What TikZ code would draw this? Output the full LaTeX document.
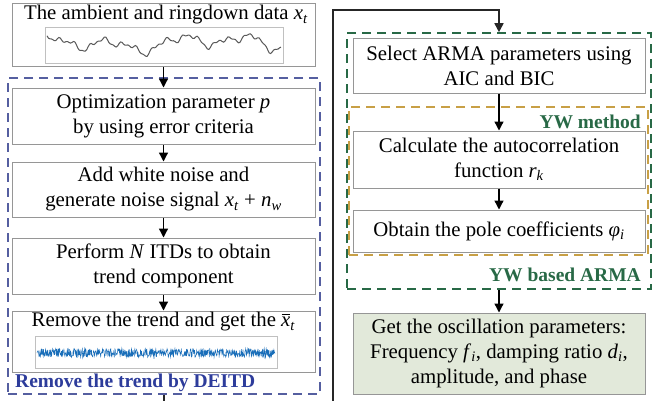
\documentclass[tikz,border=0pt]{standalone}
\usepackage{fontspec}
\setmainfont{Liberation Serif}
\usetikzlibrary{arrows.meta}
\definecolor{boxgray}{RGB}{150,150,150}
\definecolor{deitdblue}{RGB}{85,95,160}
\definecolor{labelblue}{RGB}{45,60,155}
\definecolor{armagreen}{RGB}{40,105,70}
\definecolor{ywgold}{RGB}{200,160,70}
\definecolor{oscfill}{RGB}{226,233,218}
\definecolor{noiseblue}{RGB}{25,110,185}
\newcommand\vsub[2]{\textit{#1}\textsubscript{\textit{#2}}}
\newcommand\xbar{x\llap{\rule[0.56em]{0.4em}{0.05em}\kern0.02em}}

\begin{document}
\begin{tikzpicture}[x=1pt,y=-1pt,>={Triangle[length=9pt,width=9pt]},
    every node/.style={font=\rmfamily\fontsize{20.8}{25}\selectfont,inner sep=0pt},
    stepbox/.style={draw=boxgray,line width=1pt,fill=white,align=center,minimum width=303pt},
    rstepbox/.style={stepbox,minimum width=292pt},
    groupbox/.style={dashed,dash pattern=on 9pt off 6pt,line width=1.6pt},
    grouplabel/.style={font=\rmfamily\fontsize{19.5}{22}\selectfont\bfseries,anchor=east},
    flow/.style={->,line width=1.3pt}]
    \useasboundingbox (0,0) rectangle (670,400);

    % group frames
    \node[groupbox,draw=deitdblue,minimum width=312pt,minimum height=316pt] (deitd) at (164,236) {};
    \node[groupbox,draw=armagreen,minimum width=304pt,minimum height=256pt] (arma) at (499,161) {};
    \node[groupbox,draw=ywgold,minimum width=299pt,minimum height=148pt] (yw) at (498.5,181) {};

    % left column
    \node[stepbox,minimum height=63pt] (data) at (163.5,34.5) {};
    \node (datatxt) at (166,15) {The ambient and ringdown data \vsub{x}{t}};
    \node[draw=boxgray!60,line width=0.6pt,minimum width=238pt,minimum height=36pt] (rawplot) at (164,45) {};
    \draw[black!65,line width=1pt] plot[domain=47:281,samples=160]
        (\x,{43 - 4*sin(\x*2.1) + 5*sin(\x*5.3+40) - 3*sin(\x*11.7) + 2*sin(\x*23) + 1.2*sin(\x*47)});

    \node[stepbox,minimum height=56pt] (opt) at (163.5,116) {Optimization parameter \textit{p}\\by using error criteria};
    \node[stepbox,minimum height=55pt] (wn) at (163.5,189.5) {Add white noise and\\generate noise signal \vsub{x}{t} + \vsub{n}{w}};
    \node[stepbox,minimum height=56pt] (itd) at (163.5,266) {Perform \textit{N} ITDs to obtain\\trend component};
    \node[stepbox,minimum height=61pt] (trend) at (163.5,341.5) {};
    \node (trendtxt) at (163.5,322) {Remove the trend and get the \vsub{\xbar}{t}};
    \node[draw=boxgray!60,line width=0.6pt,minimum width=242pt,minimum height=32pt] (cleanplot) at (156,352) {};
    \pgfmathsetseed{11}
    \draw[noiseblue,line width=0.5pt] plot[domain=37:275,samples=700] (\x,{353+4.5*rand});
    \node[grouplabel,text=labelblue,anchor=west] (deitdlbl) at (15,383) {Remove the trend by DEITD};

    % right column
    \node[rstepbox,minimum height=55pt] (select) at (499,65.5) {Select ARMA parameters using\\AIC and BIC};
    \node[rstepbox,minimum height=57pt] (acf) at (499,159.5) {Calculate the autocorrelation\\function \vsub{r}{k}};
    \node[rstepbox,minimum height=42pt] (pole) at (499,231) {Obtain the pole coefficients \vsub{φ}{i}};
    \node[grouplabel,text=armagreen] (ywlbl) at (641,122) {YW method};
    \node[grouplabel,text=armagreen] (armalbl) at (641,275) {YW based ARMA};
    \node[rstepbox,fill=oscfill,minimum height=81pt] (osc) at (499,353.5)
        {Get the oscillation parameters:\\Frequency \vsub{f}{i}, damping ratio \vsub{d}{i},\\amplitude, and phase};

    % connectors
    \coordinate (c1) at (164,430);
    \coordinate (c2) at (333,430);
    \coordinate (c3) at (333,10);
    \coordinate (c4) at (499,10);
    \draw[flow] (data.south -| opt.north) -- (opt.north);
    \draw[flow] (opt) -- (wn);
    \draw[flow] (wn) -- (itd);
    \draw[flow] (itd) -- (trend);
    \draw[flow,line width=1.6pt,black!85] (deitd.south) -- (c1) -- (c2) -- (c3) -- (c4) -- (arma.north);
    \draw[flow] (select) -- (acf);
    \draw[flow] (acf) -- (pole);
    \draw[flow] (arma.south) -- (osc);
\end{tikzpicture}
\end{document}
